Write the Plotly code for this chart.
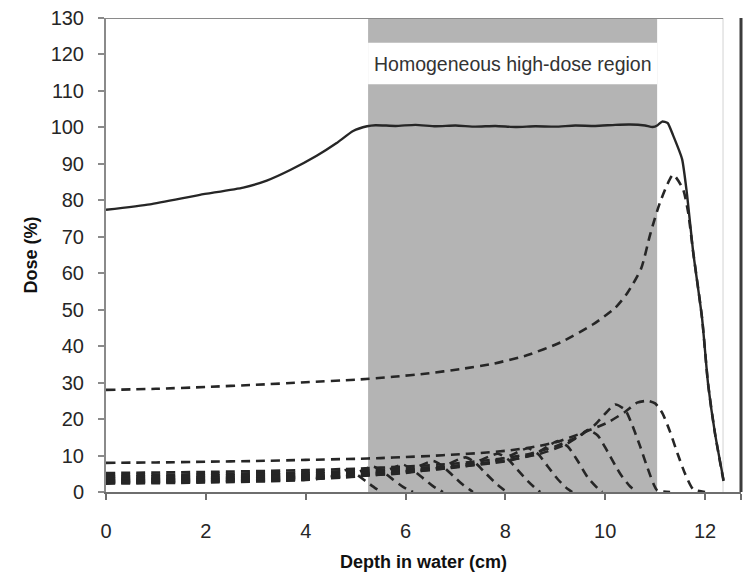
import plotly.graph_objects as go

# ---------------- data ----------------
sobp_x = [0, 0.88, 1.88, 2.75, 3.22, 3.69, 4.22, 4.62, 4.95, 5.23, 5.4, 5.8, 6.2, 6.6, 7.0,
          7.4, 7.8, 8.2, 8.6, 9.0, 9.4, 9.8, 10.2, 10.5, 10.8, 10.95, 11.05, 11.14, 11.25,
          11.36, 11.54, 11.64, 11.76, 11.94, 12.06, 12.2, 12.37]
sobp_y = [77.4, 78.9, 81.5, 83.5, 85.4, 88.3, 92.2, 95.7, 99.0, 100.3, 100.6, 100.4, 100.7,
          100.3, 100.5, 100.2, 100.4, 100.1, 100.3, 100.2, 100.5, 100.4, 100.7, 100.8, 100.5,
          100.1, 100.6, 101.6, 101.2, 97.8, 91.3, 81.5, 66.0, 47.7, 29.7, 16.0, 3.3]

peak12_x = [0, 1, 2, 3, 4, 5, 5.75, 6.43, 7.09, 7.76, 8.43, 9.1, 9.76, 10.2, 10.44, 10.72,
            10.9, 11.1, 11.36, 11.56, 11.66, 11.76, 11.94, 12.06, 12.2, 12.37]
peak12_y = [28.0, 28.3, 28.8, 29.4, 30.1, 30.8, 31.6, 32.5, 33.7, 35.2, 37.5, 41.0, 46.0,
            50.5, 54.5, 61.3, 70.6, 79.5, 87.0, 83.0, 76.8, 66.0, 47.7, 29.7, 16.0, 3.0]

peak11_x = [0, 1, 2, 3, 4, 5, 5.5, 6, 6.5, 7, 7.5, 8, 8.5, 9, 9.56, 10.04, 10.4, 10.64, 10.86,
            11.0, 11.15, 11.3, 11.45, 11.6, 11.76, 12.0]
peak11_y = [8.0, 8.1, 8.3, 8.5, 8.8, 9.1, 9.3, 9.6, 9.9, 10.3, 10.7, 11.3, 12.2, 13.6, 16.3,
            19.0, 22.0, 24.5, 25.0, 24.3, 21.5, 16.5, 10.5, 5.0, 0.8, 0.0]

peak10_x = [0, 2, 4, 5, 6, 7, 8, 8.5, 9.0, 9.5, 9.8, 10.0, 10.2, 10.4, 10.55, 10.7, 10.85,
            11.04, 11.3]
peak10_y = [5.2, 5.5, 6.0, 6.4, 7.0, 7.8, 9.3, 10.5, 12.5, 15.5, 18.5, 21.5, 24.0, 22.5,
            18.0, 12.5, 6.5, 0.5, 0.0]

peak9_x = [0, 2, 4, 5, 6, 7, 8, 8.7, 9.2, 9.5, 9.65, 9.85, 10.05, 10.3, 10.5, 10.64]
peak9_y = [4.6, 4.9, 5.4, 5.8, 6.4, 7.2, 8.6, 10.5, 13.0, 15.5, 17.0, 15.5, 11.0, 5.0, 1.5, 0.0]

peak8_x = [0, 2, 4, 5, 6, 7, 8, 8.6, 8.9, 9.05, 9.25, 9.45, 9.65, 9.85, 9.94]
peak8_y = [4.2, 4.5, 5.0, 5.4, 6.0, 6.9, 8.4, 10.5, 13.0, 14.0, 12.5, 8.5, 4.0, 1.0, 0.0]

peak7_x = [0, 2, 4, 5, 6, 7, 7.7, 8.1, 8.45, 8.65, 8.85, 9.05, 9.25, 9.34]
peak7_y = [3.8, 4.1, 4.6, 5.0, 5.7, 6.7, 8.2, 10.0, 12.0, 10.5, 7.0, 3.5, 0.8, 0.0]

peak6_x = [0, 2, 4, 5, 6, 6.8, 7.4, 7.85, 8.05, 8.25, 8.45, 8.62, 8.7]
peak6_y = [3.5, 3.8, 4.3, 4.7, 5.4, 6.5, 8.2, 10.5, 9.0, 6.0, 3.0, 0.8, 0.0]

peak5_x = [0, 2, 4, 5, 6, 6.7, 7.2, 7.4, 7.6, 7.8, 7.97, 8.04]
peak5_y = [3.2, 3.5, 4.0, 4.4, 5.2, 6.8, 9.5, 8.0, 5.2, 2.5, 0.6, 0.0]

peak4_x = [0, 2, 4, 5, 6, 6.55, 6.75, 6.95, 7.15, 7.3, 7.35]
peak4_y = [3.0, 3.3, 3.8, 4.3, 5.6, 8.5, 7.0, 4.5, 2.0, 0.5, 0.0]

peak3_x = [0, 2, 4, 5, 5.6, 5.95, 6.15, 6.35, 6.55, 6.7, 6.75]
peak3_y = [2.7, 3.0, 3.5, 4.2, 5.8, 7.5, 6.0, 3.8, 1.6, 0.4, 0.0]

peak2_x = [0, 2, 4, 4.9, 5.35, 5.55, 5.75, 5.95, 6.1, 6.15]
peak2_y = [2.5, 2.8, 3.4, 4.6, 7.0, 5.5, 3.4, 1.4, 0.3, 0.0]

peak1_x = [0, 2, 4, 4.5, 4.8, 5.0, 5.2, 5.4, 5.53]
peak1_y = [2.3, 2.6, 3.3, 4.2, 6.0, 5.0, 3.0, 1.0, 0.0]

x_ticks = [0, 2, 4, 6, 8, 10, 12]
y_ticks = [0, 10, 20, 30, 40, 50, 60, 70, 80, 90, 100, 110, 120, 130]
region_label = "Homogeneous high-dose region"
x_title = "Depth in water (cm)"
y_title = "Dose (%)"

region_start, region_end = 5.25, 11.04
label_band = (111.8, 123.2)
x_max = 12.72

# ---------------- figure ----------------
FONT = "Liberation Sans, Arial, sans-serif"
LINE_COLOR = "#262626"

fig = go.Figure()

dashed = [(peak1_x, peak1_y), (peak2_x, peak2_y), (peak3_x, peak3_y), (peak4_x, peak4_y),
          (peak5_x, peak5_y), (peak6_x, peak6_y), (peak7_x, peak7_y), (peak8_x, peak8_y),
          (peak9_x, peak9_y), (peak10_x, peak10_y), (peak11_x, peak11_y),
          (peak12_x, peak12_y)]
for i, (xs, ys) in enumerate(dashed):
    fig.add_trace(go.Scatter(x=xs, y=ys, mode="lines", name=f"Peak {i + 1}",
                             line=dict(color=LINE_COLOR, width=2.6, dash="9px,6px",
                                       shape="spline", smoothing=0.6),
                             showlegend=False, hoverinfo="x+y"))

fig.add_trace(go.Scatter(x=sobp_x, y=sobp_y, mode="lines", name="SOBP",
                         line=dict(color=LINE_COLOR, width=2.4, shape="spline", smoothing=0.5),
                         showlegend=False))

shapes = [
    dict(type="rect", xref="x", yref="y", x0=region_start, x1=region_end, y0=0, y1=130,
         fillcolor="#b4b4b4", line=dict(width=0), layer="below"),
    dict(type="rect", xref="x", yref="y", x0=region_start, x1=region_end,
         y0=label_band[0], y1=label_band[1], fillcolor="white", line=dict(width=0),
         layer="below"),
    # top frame line
    dict(type="line", xref="x", yref="y", x0=0, x1=12.36, y0=130, y1=130,
         line=dict(color="#8a8a8a", width=2)),
    # faint vertical line near the right
    dict(type="line", xref="x", yref="y", x0=12.36, x1=12.36, y0=0, y1=130,
         line=dict(color="#e2e2e2", width=1.5), layer="below"),
    # dark right border
    dict(type="line", xref="paper", yref="y", x0=1, x1=1, y0=-1, y1=130,
         line=dict(color="#3c3c3c", width=3)),
]

fig.add_annotation(x=(region_start + region_end) / 2, y=sum(label_band) / 2,
                   xref="x", yref="y", text=region_label, showarrow=False,
                   font=dict(family=FONT, size=19.5, color="#333333"))

fig.update_layout(
    width=748, height=580,
    margin=dict(l=106, r=7, t=14, b=88),
    paper_bgcolor="white", plot_bgcolor="white",
    shapes=shapes,
    font=dict(family=FONT, color="#222222"),
    xaxis=dict(
        range=[0, x_max], tickmode="array",
        tickvals=x_ticks + [x_max], ticktext=[str(t) for t in x_ticks] + [""],
        showgrid=False, zeroline=False, showline=True, linecolor="#6e6e6e", linewidth=2,
        ticks="outside", ticklen=6, tickcolor="#6e6e6e", tickwidth=1.5,
        tickfont=dict(family=FONT, size=20, color="#262626"), ticklabelstandoff=14,
        title=dict(text=x_title, font=dict(family=FONT, size=18, color="#111111",
                                           weight="bold"), standoff=14),
    ),
    yaxis=dict(
        range=[0, 130], tickmode="array", tickvals=y_ticks,
        showgrid=False, zeroline=False, showline=True, linecolor="#8a8a8a", linewidth=2,
        ticks="outside", ticklen=6, tickcolor="#8a8a8a", tickwidth=1.5,
        tickfont=dict(family=FONT, size=20, color="#262626"), ticklabelstandoff=10,
        title=dict(text=y_title, font=dict(family=FONT, size=18, color="#111111",
                                           weight="bold"), standoff=8),
    ),
)

fig.write_html("out.html")
